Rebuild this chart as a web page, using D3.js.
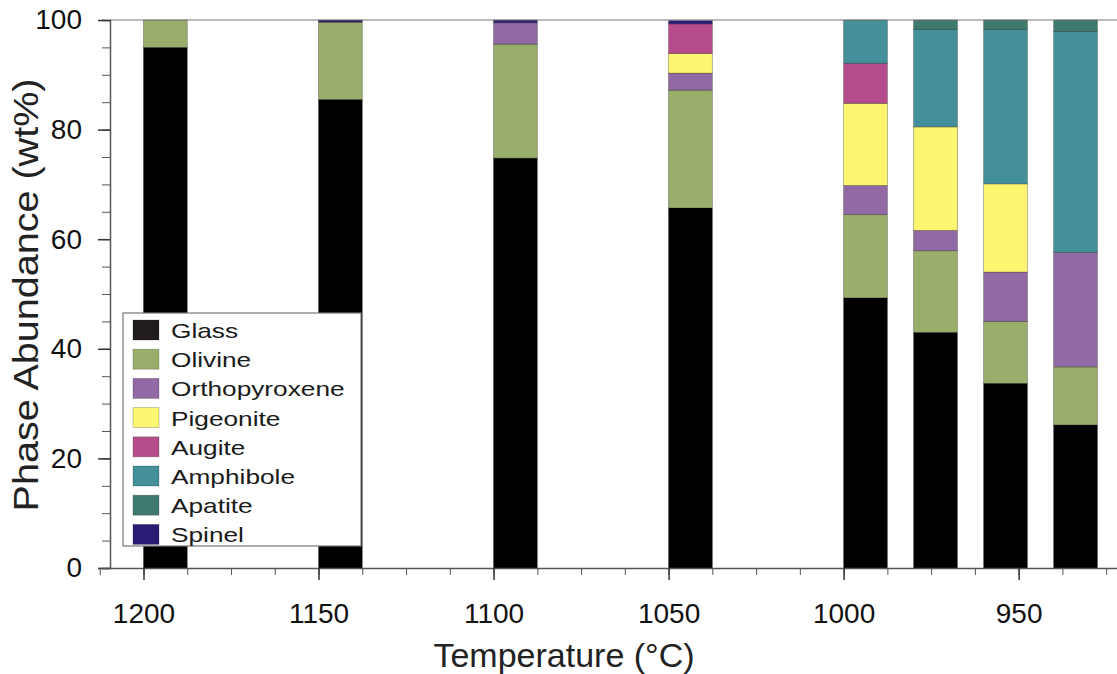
<!DOCTYPE html>
<html>
<head>
<meta charset="utf-8">
<script src="https://cdn.jsdelivr.net/npm/d3@7"></script>
<style>
  body { margin: 0; background: #fff; }
  text { font-family: "Liberation Sans", Arial, sans-serif; }
</style>
</head>
<body>
<svg id="chart"></svg>
<script>
const width = 1117;
const height = 674;

// run temperatures (°C), left edge of each bar
const temperatures = [1200, 1150, 1100, 1050, 1000, 980, 960, 940];
const phases = ["Glass", "Olivine", "Orthopyroxene", "Pigeonite", "Augite", "Amphibole", "Apatite", "Spinel"];
const phaseColors = ["#000000", "#9aae6b", "#9169a4", "#fdf670", "#b64c8c", "#43909b", "#3e7a6e", "#2a1b74"];
const legendColors = ["#221c1c", "#9aae6b", "#9169a4", "#fdf670", "#b64c8c", "#43909b", "#3e7a6e", "#2a1b74"];

// wt% of each phase per run (same order as temperatures)
const glass         = [95.0, 85.5, 74.8, 65.7, 49.3, 43.0, 33.7, 26.1];
const olivine       = [5.0, 14.1, 20.8, 21.5, 15.2, 14.9, 11.3, 10.6];
const orthopyroxene = [0, 0, 3.9, 3.1, 5.3, 3.7, 9.0, 20.9];
const pigeonite     = [0, 0, 0, 3.6, 15.0, 18.9, 16.1, 0];
const augite        = [0, 0, 0, 5.4, 7.3, 0, 0, 0];
const amphibole     = [0, 0, 0, 0, 7.9, 17.8, 28.2, 40.3];
const apatite       = [0, 0, 0, 0, 0, 1.7, 1.7, 2.1];
const spinel        = [0, 0.4, 0.5, 0.6, 0, 0, 0, 0];

const yTicks = [0, 20, 40, 60, 80, 100];
const xTicks = [1200, 1150, 1100, 1050, 1000, 950];
const barWidthDeg = 12.5;

const series = [glass, olivine, orthopyroxene, pigeonite, augite, amphibole, apatite, spinel];
const table = temperatures.map((t, i) => {
    const row = { temp: t };
    phases.forEach((p, k) => row[p] = series[k][i]);
    return row;
});

const svg = d3.select("#chart")
    .attr("width", width)
    .attr("height", height);

const xScale = d3.scaleLinear()
    .domain([1213, 921.9])
    .range([98, 1117]);

const yScale = d3.scaleLinear()
    .domain([0, 100])
    .range([568, 20]);

const stacked = d3.stack().keys(phases)(table);

// bars
svg.append("g")
    .selectAll("g")
    .data(stacked)
    .join("g")
    .attr("fill", (d, i) => phaseColors[i])
    .selectAll("rect")
    .data(d => d.filter(s => s[1] - s[0] > 0))
    .join("rect")
    .attr("x", d => xScale(d.data.temp))
    .attr("width", d => xScale(d.data.temp - barWidthDeg) - xScale(d.data.temp))
    .attr("y", d => yScale(d[1]))
    .attr("height", d => yScale(d[0]) - yScale(d[1]))
    .attr("stroke", "rgba(0,0,0,0.35)")
    .attr("stroke-width", 0.8);

// top frame line
svg.append("line")
    .attr("x1", 110).attr("x2", width)
    .attr("y1", 20).attr("y2", 20)
    .attr("stroke", "#777").attr("stroke-width", 1.2);

// y axis
const yAxis = svg.append("g")
    .attr("transform", "translate(110,0)");
yAxis.call(d3.axisLeft(yScale).tickValues(d3.range(0, 101, 5)).tickFormat("").tickSize(8))
    .call(g => g.select(".domain").attr("stroke", "#555").attr("stroke-width", 1.5));
yAxis.selectAll(".tick line").attr("stroke", "#555").attr("stroke-width", 1);
svg.append("g")
    .attr("transform", "translate(110,0)")
    .call(d3.axisLeft(yScale).tickValues(yTicks).tickSize(12).tickPadding(16).tickFormat(d3.format("d")))
    .call(g => g.select(".domain").remove())
    .call(g => g.selectAll(".tick line").attr("stroke", "#333").attr("stroke-width", 1.5))
    .call(g => g.selectAll("text").attr("font-size", 28).attr("fill", "#111"));

// x axis
const minorX = d3.range(925, 1213, 12.5);
svg.append("g")
    .attr("transform", "translate(0,568)")
    .call(d3.axisBottom(xScale).tickValues(minorX).tickFormat("").tickSize(7).tickSizeOuter(0))
    .call(g => g.select(".domain").attr("stroke", "#555").attr("stroke-width", 1.5))
    .call(g => g.selectAll(".tick line").attr("stroke", "#555").attr("stroke-width", 1));
svg.append("g")
    .attr("transform", "translate(0,568)")
    .call(d3.axisBottom(xScale).tickValues(xTicks).tickSize(12).tickPadding(23).tickFormat(d3.format("d")))
    .call(g => g.select(".domain").remove())
    .call(g => g.selectAll(".tick line").attr("stroke", "#333").attr("stroke-width", 1.5))
    .call(g => g.selectAll("text").attr("font-size", 28).attr("fill", "#111"));

// axis titles
svg.append("text")
    .attr("x", 564)
    .attr("y", 667)
    .attr("text-anchor", "middle")
    .attr("font-size", 34)
    .attr("fill", "#222")
    .text("Temperature (°C)");

svg.append("text")
    .attr("transform", "translate(38,295) rotate(-90) scale(1.13,1)")
    .attr("text-anchor", "middle")
    .attr("font-size", 35)
    .attr("fill", "#222")
    .text("Phase Abundance (wt%)");

// legend
const legend = svg.append("g").attr("transform", "translate(123,313)");
legend.append("rect")
    .attr("width", 238).attr("height", 233)
    .attr("fill", "#fff").attr("stroke", "#777").attr("stroke-width", 1.2);
const items = legend.selectAll("g.item")
    .data(phases)
    .join("g")
    .attr("class", "item")
    .attr("transform", (d, i) => `translate(10,${7 + i * 29.2})`);
items.append("rect")
    .attr("width", 26).attr("height", 20)
    .attr("fill", (d, i) => legendColors[i])
    .attr("stroke", "rgba(0,0,0,0.25)").attr("stroke-width", 0.8);
items.append("text")
    .attr("transform", "translate(38,18) scale(1.25,1)")
    .attr("font-size", 21)
    .attr("fill", "#1a1a1a")
    .text(d => d);
</script>
</body>
</html>
